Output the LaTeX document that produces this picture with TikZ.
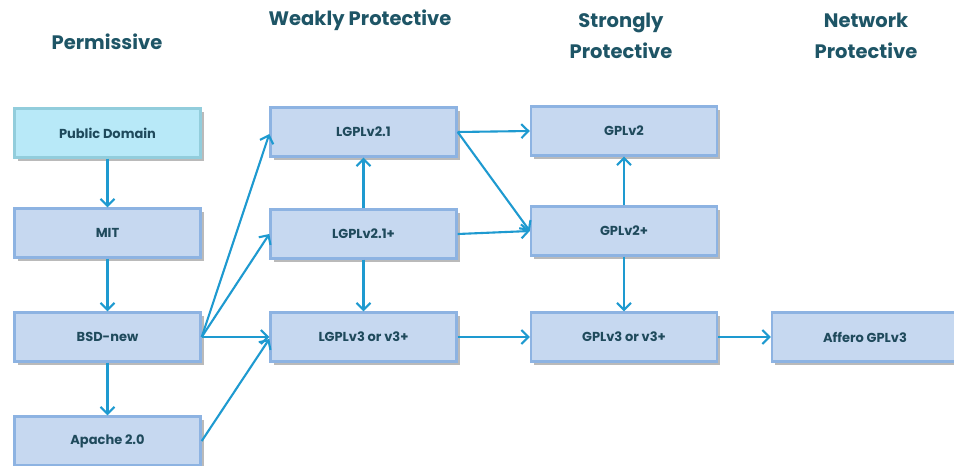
\documentclass[tikz,border=0pt]{standalone}
\usepackage{fontspec}
\setmainfont{Poppins}
\usetikzlibrary{arrows.meta,shadows}
\definecolor{boxfill}{HTML}{C6D8F0}
\definecolor{boxline}{HTML}{8DB3E2}
\definecolor{pdfill}{HTML}{B8E9F8}
\definecolor{pdline}{HTML}{92CDDC}
\definecolor{txt}{HTML}{1F4A5C}
\definecolor{ttl}{HTML}{1E5566}
\definecolor{arr}{HTML}{1E9AD0}
\begin{document}
\begin{tikzpicture}[x=1pt,y=-1pt,
  lic/.style={draw=boxline, line width=2.4pt, fill=boxfill, minimum width=186pt, minimum height=49pt,
    inner sep=0pt, text=txt, font=\fontsize{13}{15}\selectfont\bfseries,
    drop shadow={shadow xshift=3pt, shadow yshift=-3pt, fill=black!45, opacity=0.6}},
  pd/.style={lic, fill=pdfill, draw=pdline},
  head/.style={text=ttl, font=\fontsize{19.5}{31}\selectfont\bfseries, align=center},
  conn/.style={draw=arr, line width=2.1pt, -{Straight Barb[length=7pt,width=14pt,line width=2.1pt]}}
]
\useasboundingbox (0,0) rectangle (954,466);
\fill[white] (0,0) rectangle (954,466);

\node[head] (h1) at (107,42) {Permissive};
\node[head] (h2) at (360,20) {Weakly Protective};
\node[head] (h3) at (621,36) {Strongly\\Protective};
\node[head] (h4) at (866,36) {Network\\Protective};

\node[pd]  (pd)   at (107.5,133) {Public Domain};
\node[lic] (mit)  at (107.5,233) {MIT};
\node[lic] (bsd)  at (107.5,337) {BSD-new};
\node[lic] (apa)  at (107.5,441) {Apache 2.0};

\node[lic] (l21)  at (363.5,132) {LGPLv2.1};
\node[lic] (l21p) at (363.5,234) {LGPLv2.1+};
\node[lic] (l3)   at (363.5,337) {LGPLv3 or v3+};

\node[lic] (g2)   at (624,131) {GPLv2};
\node[lic] (g2p)  at (624,231) {GPLv2+};
\node[lic] (g3)   at (624,337) {GPLv3 or v3+};

\node[lic] (agpl) at (865,337) {Affero GPLv3};

\draw[conn] (pd) -- (mit);
\draw[conn] (mit) -- (bsd);
\draw[conn] (bsd) -- (apa);
\draw[conn] (bsd.east) -- (l21.west |- 0,134);
\draw[conn] (bsd.east) -- (l21p.west);
\draw[conn] (bsd.east) -- (l3.west);
\draw[conn] (apa.east) -- (l3.west |- 0,339);
\draw[conn] (l21p) -- (l21);
\draw[conn] (l21p) -- (l3);
\draw[conn] (l21.east) -- (g2.west);
\draw[conn] (l21.east) -- (g2p.west);
\draw[conn] (l21p.east) -- (g2p.west);
\draw[conn] (l3) -- (g3);
\draw[conn] (g2p) -- (g2);
\draw[conn] (g2p) -- (g3);
\draw[conn] (g3) -- (agpl);
\end{tikzpicture}
\end{document}
